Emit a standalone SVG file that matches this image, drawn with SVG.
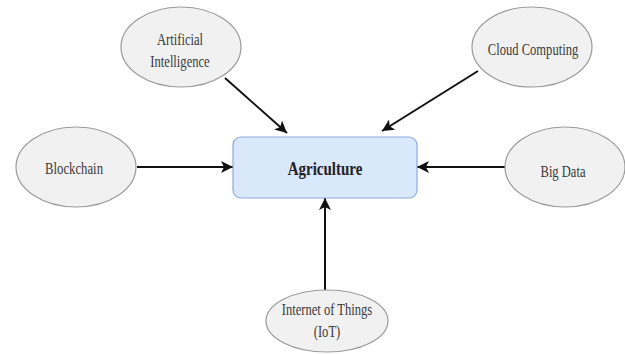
<svg xmlns="http://www.w3.org/2000/svg" width="625" height="354" viewBox="0 0 625 354">
<style>
.node ellipse{fill:#f1f1f1;stroke:#9a9a9a;stroke-width:1.2}
.lbl{font-family:"Liberation Serif","Times New Roman",serif;font-size:17px;fill:#3a3a3a;text-anchor:middle}
.main{font-family:"Liberation Serif","Times New Roman",serif;font-size:19px;font-weight:bold;fill:#222;text-anchor:middle}
.conn line{stroke:#111;stroke-width:2;marker-end:url(#ah)}
</style>
<defs>
<marker id="ah" markerUnits="userSpaceOnUse" markerWidth="14" markerHeight="12" refX="12" refY="6" orient="auto">
<path d="M0,0 L12,6 L0,12 L3,6 Z" fill="#111"/>
</marker>
</defs>
<rect width="625" height="354" fill="#fff"/>
<g class="conn">
<line x1="225" y1="78" x2="287" y2="133"/>
<line x1="478" y1="71" x2="382" y2="131"/>
<line x1="137" y1="167" x2="233" y2="167"/>
<line x1="505" y1="167" x2="417" y2="167"/>
<line x1="325" y1="290" x2="325" y2="198"/>
</g>
<g id="agriculture">
<rect x="233" y="137" width="184" height="61" rx="8" fill="#dae8fc" stroke="#8eaadb" stroke-width="1.2"/>
<text class="main" transform="translate(325 175) scale(0.79 1)">Agriculture</text>
</g>
<g id="ai" class="node">
<ellipse cx="181" cy="47" rx="60" ry="40"/>
<text class="lbl" transform="translate(180 45) scale(0.74 1)">Artificial</text>
<text class="lbl" transform="translate(180 67) scale(0.74 1)">Intelligence</text>
</g>
<g id="cloud" class="node">
<ellipse cx="532" cy="47" rx="60" ry="40"/>
<text class="lbl" transform="translate(533 55) scale(0.74 1)">Cloud Computing</text>
</g>
<g id="blockchain" class="node">
<ellipse cx="76" cy="167" rx="60" ry="40"/>
<text class="lbl" transform="translate(74 174) scale(0.75 1)">Blockchain</text>
</g>
<g id="bigdata" class="node">
<ellipse cx="565" cy="167" rx="60" ry="40"/>
<text class="lbl" transform="translate(563 177) scale(0.74 1)">Big Data</text>
</g>
<g id="iot" class="node">
<ellipse cx="327" cy="321" rx="61" ry="31"/>
<text class="lbl" transform="translate(327 315) scale(0.74 1)">Internet of Things</text>
<text class="lbl" transform="translate(327 337) scale(0.74 1)">(IoT)</text>
</g>
</svg>
